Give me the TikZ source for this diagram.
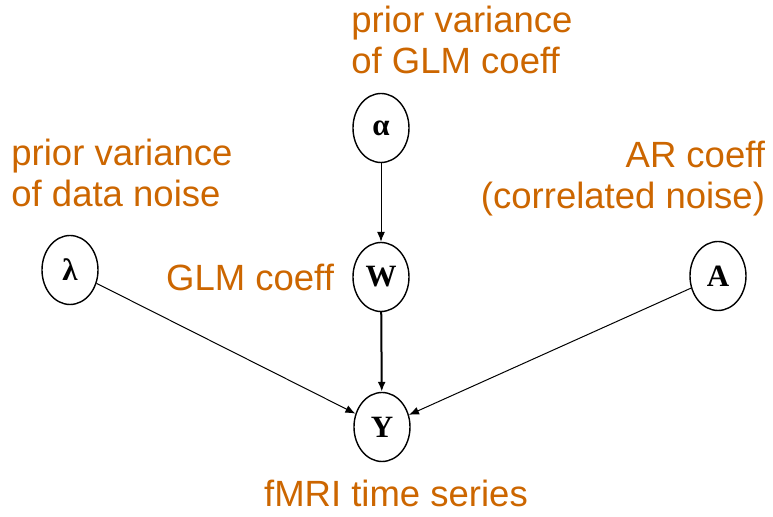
\documentclass[tikz,border=0pt]{standalone}
\usepackage{fontspec}
\setmainfont{Liberation Sans}
\newfontfamily\varfont{Liberation Serif}
\usepackage{xcolor}
\usetikzlibrary{arrows.meta,positioning,shapes.geometric}
\definecolor{lblorange}{HTML}{CC6600}

\begin{document}
\begin{tikzpicture}[
    x=0.5pt, y=-0.5pt,
    var/.style={draw, ellipse, line width=0.7pt, minimum width=28pt, minimum height=34.5pt, inner sep=0pt, font=\varfont\bfseries\fontsize{15.5}{18}\selectfont},
    lbl/.style={inner sep=0pt, text=lblorange, font=\fontsize{18.25}{20.5}\selectfont},
    arr/.style={-{Latex[length=5pt,width=4pt]}, line width=0.5pt},
    tarr/.style={-{Latex[length=5pt,width=4pt]}, line width=1pt},
]
    \useasboundingbox (0,0) rectangle (773,517);

    % Variables
    \node [var] (alpha) at (381,128) {α};
    \node [var] (w) at (381,277) {W};
    \node [var] (lambda) at (70,270) {λ};
    \node [var] (a) at (718,276) {A};
    \node [var] (y) at (382,427) {Y};

    % Labels
    \node [lbl, align=left, above=9.5pt of alpha, xshift=40.5pt] (alphalbl) {prior variance\\of GLM coeff};
    \node [lbl, align=left, above=14pt of lambda, xshift=26pt] (lambdalbl) {prior variance\\of data noise};
    \node [lbl, align=right, above=12pt of a, xshift=-47.5pt] (albl) {AR coeff\\(correlated noise)};
    \node [lbl, left=9pt of w] (wlbl) {GLM coeff};
    \node [lbl, below=8.5pt of y, xshift=7pt] (ylbl) {fMRI time series};

    % Edges
    \draw [arr] (alpha) -- (w);
    \draw [tarr] (w) -- (y);
    \draw [arr] (lambda) -- (y);
    \draw [arr] (a) -- (y);
\end{tikzpicture}
\end{document}
